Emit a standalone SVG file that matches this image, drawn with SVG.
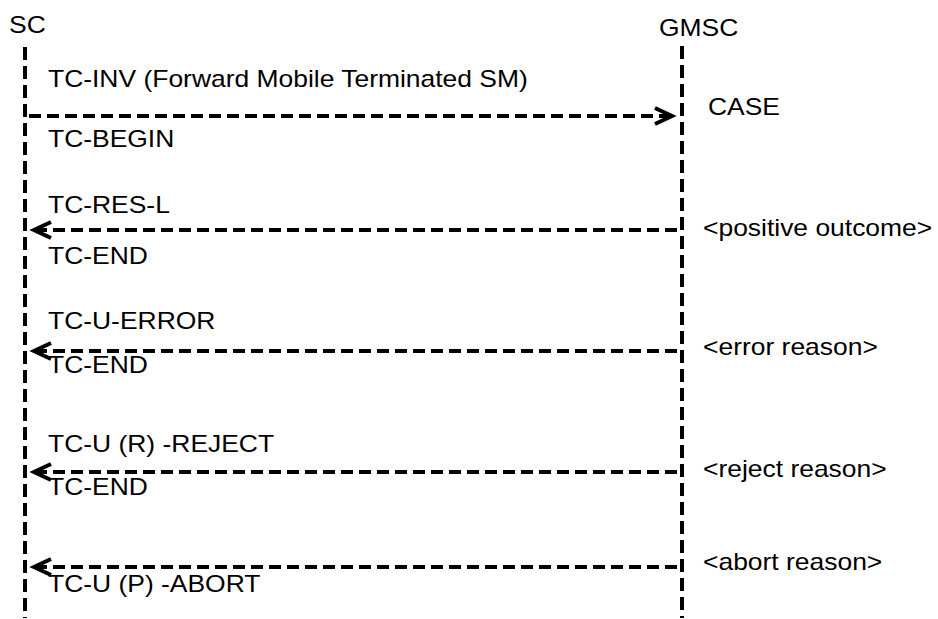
<svg xmlns="http://www.w3.org/2000/svg" width="938" height="619" viewBox="0 0 938 619">
<style>
.t{font-family:"Liberation Sans",Arial,sans-serif;font-size:23px;fill:#000}
.life{stroke:#000;stroke-width:4;stroke-dasharray:13 6;fill:none}
.msg{stroke:#000;stroke-width:4;stroke-dasharray:12 6;fill:none}
</style>
<defs>
<marker id="ah" markerUnits="userSpaceOnUse" markerWidth="30" markerHeight="30" refX="0" refY="0" orient="auto" overflow="visible">
<path d="M-17,-8 L0,0 L-17,8" fill="none" stroke="#000" stroke-width="4" stroke-dasharray="none"/>
</marker>
</defs>
<rect width="938" height="619" fill="#fff"/>
<g id="SC">
<line class="life" x1="25" y1="47" x2="25" y2="618"/>
<text class="t" transform="translate(9,33) scale(1.15,1)">SC</text>
</g>
<g id="GMSC">
<line class="life" x1="682" y1="46" x2="682" y2="618"/>
<text class="t" transform="translate(659,36) scale(1.15,1)">GMSC</text>
</g>
<g id="connectors">
<line class="msg" x1="29" y1="116" x2="672" y2="116" marker-end="url(#ah)"/>
<line class="msg" x1="677" y1="230" x2="34" y2="230" marker-end="url(#ah)"/>
<line class="msg" x1="677" y1="351" x2="34" y2="351" marker-end="url(#ah)"/>
<line class="msg" x1="677" y1="472" x2="34" y2="472" marker-end="url(#ah)"/>
<line class="msg" x1="677" y1="567" x2="34" y2="567" marker-end="url(#ah)"/>
</g>
<g id="labels">
<text class="t" transform="translate(48,87) scale(1.15,1)">TC-INV (Forward Mobile Terminated SM)</text>
<text class="t" transform="translate(708,115) scale(1.15,1)">CASE</text>
<text class="t" transform="translate(48,147) scale(1.15,1)">TC-BEGIN</text>
<text class="t" transform="translate(48,213) scale(1.15,1)">TC-RES-L</text>
<text class="t" transform="translate(703,236) scale(1.15,1)">&lt;positive outcome&gt;</text>
<text class="t" transform="translate(48,264) scale(1.15,1)">TC-END</text>
<text class="t" transform="translate(48,329) scale(1.15,1)">TC-U-ERROR</text>
<text class="t" transform="translate(703,355) scale(1.15,1)">&lt;error reason&gt;</text>
<text class="t" transform="translate(48,373) scale(1.15,1)">TC-END</text>
<text class="t" transform="translate(48,452) scale(1.15,1)">TC-U (R) -REJECT</text>
<text class="t" transform="translate(703,477) scale(1.15,1)">&lt;reject reason&gt;</text>
<text class="t" transform="translate(48,495) scale(1.15,1)">TC-END</text>
<text class="t" transform="translate(703,570) scale(1.15,1)">&lt;abort reason&gt;</text>
<text class="t" transform="translate(48,592) scale(1.15,1)">TC-U (P) -ABORT</text>
</g>
</svg>
